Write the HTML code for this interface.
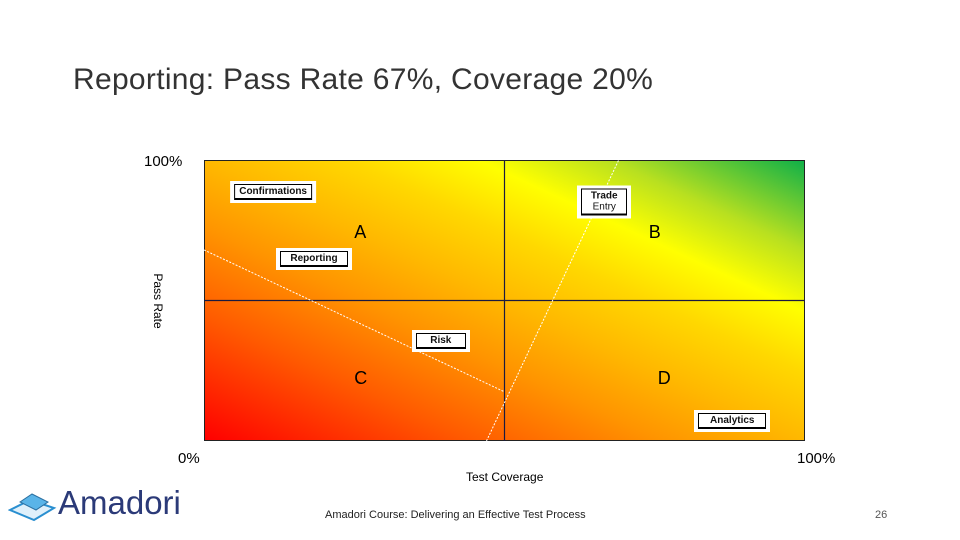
<!DOCTYPE html>
<html><head><meta charset="utf-8"><style>
body{margin:0;width:960px;height:540px;background:#fff;position:relative;overflow:hidden;font-family:"Liberation Sans",sans-serif}
.abs{position:absolute}
#title{left:73px;top:63px;font-size:30px;color:#333;font-family:"Liberation Sans",sans-serif;letter-spacing:0.3px}
#plot{left:204px;top:160px;width:601px;height:281px;border:1px solid #222;box-sizing:border-box;
background:linear-gradient(to top right,#ff0000 0%,#ff5a00 22%,#ff9400 38%,#ffb800 50%,#ffd800 62%,#ffff00 73%,#b8e020 84%,#10b048 100%)}
.lbl{position:absolute;background:#fff;padding:3px 4px;transform:translate(-50%,-50%)}
.lbl span{display:block;border:1px solid #000;border-bottom-width:2px;font-size:10px;font-weight:bold;text-align:center;padding:1px 4px;color:#111;line-height:11px;white-space:nowrap}
.q{position:absolute;font-size:18px;color:#000}
.ax{font-size:15px;color:#000}
</style></head><body>
<div id="title" class="abs">Reporting: Pass Rate 67%, Coverage 20%</div>
<div class="abs ax" style="left:144px;top:153px">100%</div>
<div class="abs ax" style="left:178px;top:450px">0%</div>
<div class="abs ax" style="left:797px;top:450px">100%</div>
<div class="abs" style="left:466px;top:470px;font-size:12px">Test Coverage</div>
<div class="abs" style="left:128px;top:294px;font-size:12px;transform:rotate(90deg);transform-origin:center;width:60px;text-align:center">Pass Rate</div>
<div id="plot" class="abs"></div>
<svg class="abs" style="left:0;top:0" width="960" height="540" id="svg"></svg>
<div class="abs" style="left:8px;top:488px">
<svg width="50" height="36"><polygon points="2,22 22,12 46,20 26,32" fill="#dff0fb" stroke="#2a8fd0" stroke-width="2"/><polygon points="12,14 24,6 40,14 28,22" fill="#5ab4e8" stroke="#2a6fa0"/></svg>
<span style="position:absolute;left:50px;top:-4px;font-size:33px;color:#2b3a78">Amadori</span></div>
<div class="abs" style="left:325px;top:509px;font-size:11px;color:#222">Amadori Course: Delivering an Effective Test Process</div>
<div class="abs" style="left:875px;top:509px;font-size:11px;color:#555">26</div>
<script>
const names=["Confirmations","Trade Entry","Reporting","Risk","Analytics"];
const coverage=[11.5,66.6,18.3,39.4,87.9];
const passRate=[88.6,85,64.8,35.6,7.1];
const quadrants=["A","B","C","D"];
const quadX=[26,75,26,76.5];
const quadY=[74,74,22,22];
const X0=204,W=601,Y0=441,H=281;
const sx=v=>X0+v*W/100, sy=v=>Y0-v*H/100;
const svg=document.getElementById('svg');const NS='http://www.w3.org/2000/svg';
function ln(x1,y1,x2,y2,st,dash,w,nm){const l=document.createElementNS(NS,'line');
l.setAttribute('x1',x1);l.setAttribute('y1',y1);l.setAttribute('x2',x2);l.setAttribute('y2',y2);
l.setAttribute('stroke',st);l.setAttribute('stroke-width',w);if(dash)l.setAttribute('stroke-dasharray',dash);


svg.appendChild(l);}
ln(sx(50),sy(0),sx(50),sy(100),'#1a1a40',null,1.2,'vertical-divider');
ln(sx(0),sy(50),sx(100),sy(50),'#1a1a40',null,1.2,'horizontal-divider');
ln(sx(0),sy(68),sx(50),sy(17.5),'#fff','2,1.5',1,'trend-line-1');
ln(sx(47),sy(0),sx(69),sy(100),'#fff','2,1.5',1,'trend-line-2');
quadrants.forEach((q,i)=>{const d=document.createElement('div');d.className='q';d.textContent=q;
d.style.left=(sx(quadX[i])-6)+'px';d.style.top=(sy(quadY[i])-11)+'px';


document.body.appendChild(d);});
names.forEach((n,i)=>{const d=document.createElement('div');d.className='lbl';
d.innerHTML='<span>'+(n==='Trade Entry'?'Trade<br><span style="border:0;padding:0;font-weight:normal;display:inline">Entry</span>':n)+'</span>';
if(n!=='Trade Entry'&&n!=='Confirmations')d.firstChild.style.minWidth=(n==='Risk'?'40px':'58px');
if(n==='Trade Entry')d.firstChild.style.minWidth='36px';
d.style.left=sx(coverage[i])+'px';d.style.top=sy(passRate[i])+'px';


document.body.appendChild(d);});
</script>
</body></html>
